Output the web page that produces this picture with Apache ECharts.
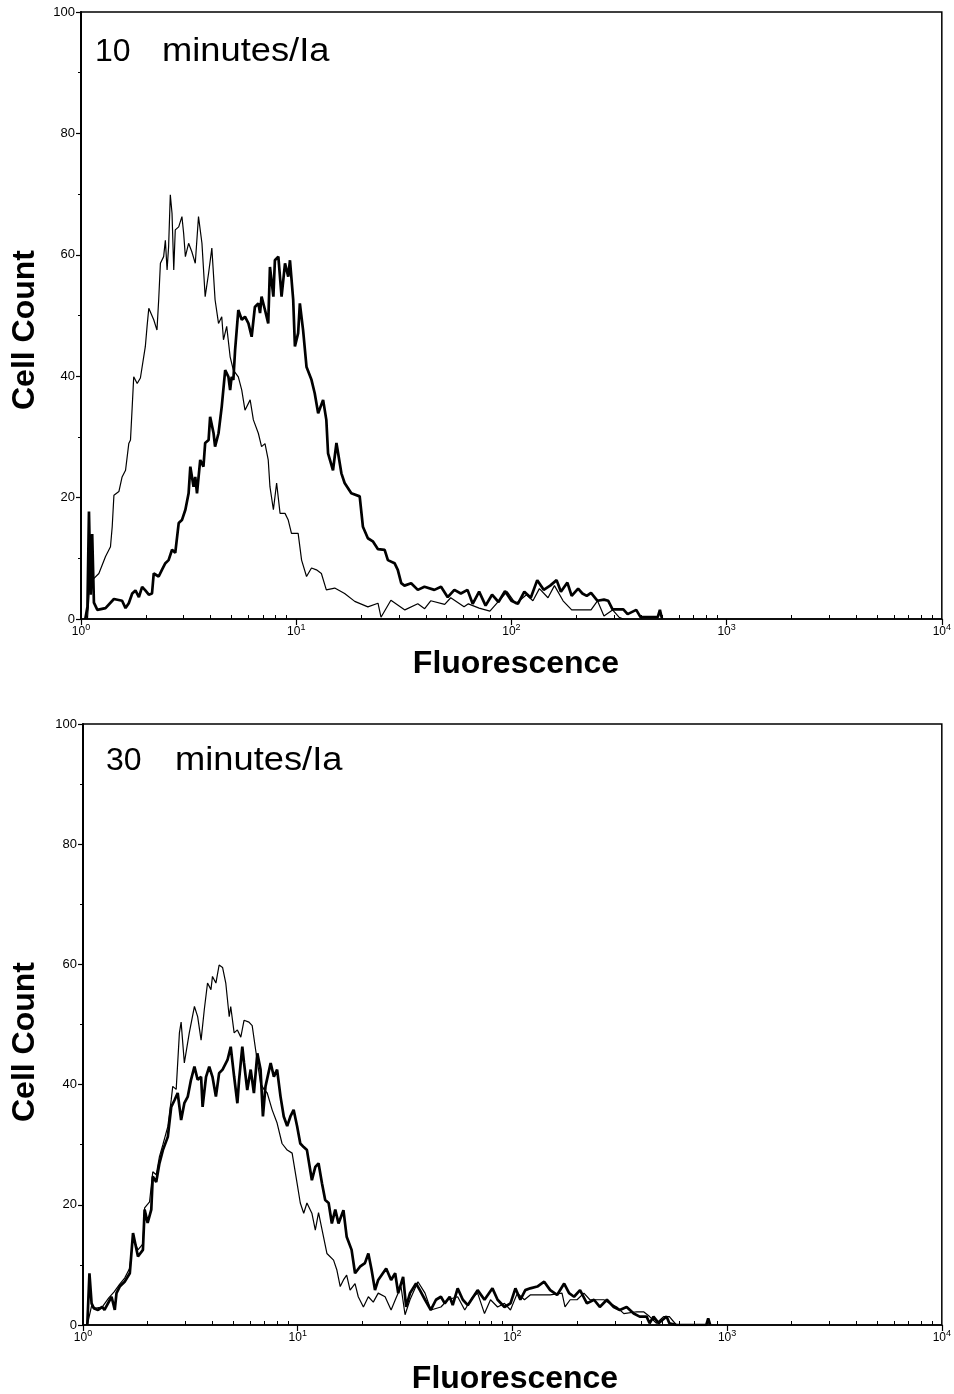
<!DOCTYPE html>
<html>
<head>
<meta charset="utf-8">
<script src="https://cdn.jsdelivr.net/npm/echarts@6/dist/echarts.min.js"></script>
<style>
html,body{margin:0;padding:0;background:#fff;}
#chart{width:954px;height:1394px;}
</style>
</head>
<body>
<div id="chart"></div>
<script>
// x values are log10(fluorescence), y values are cell counts
const xTickValues = [0, 1, 2, 3, 4];
const yTickValues = [0, 20, 40, 60, 80, 100];
const panelLabels = ['10', '30'];
const panelUnit = 'minutes/Ia';
const xTitle = 'Fluorescence';
const yTitle = 'Cell Count';

// Top panel (10 minutes) - thin line
const thin10 = [[0.03,0],[0.045,8],[0.052,6.4],[0.083,7.5],[0.114,10.3],[0.137,11.9],[0.145,15.2],[0.153,20.4],[0.176,21],[0.191,23.4],[0.207,24.5],[0.222,28.9],[0.230,29.5],[0.238,35],[0.245,39.9],[0.261,38.8],[0.276,39.7],[0.299,44.9],[0.307,48.2],[0.315,51.2],[0.338,49.3],[0.353,47.6],[0.361,52.6],[0.369,58.6],[0.384,59.7],[0.392,62.4],[0.400,57.5],[0.407,61.3],[0.415,69.9],[0.423,66.8],[0.431,57.5],[0.438,64.1],[0.454,64.6],[0.469,66.3],[0.477,63.5],[0.485,59.7],[0.500,61.9],[0.515,60.5],[0.531,58.6],[0.546,66.3],[0.562,61.9],[0.577,53.1],[0.593,57],[0.608,61.1],[0.623,52.6],[0.639,48.7],[0.654,49.8],[0.662,46],[0.677,48.2],[0.693,43.2],[0.708,41],[0.731,39.9],[0.747,37.7],[0.762,34.4],[0.786,36.1],[0.801,32.8],[0.824,30.6],[0.839,28.4],[0.855,28.9],[0.870,26.2],[0.878,21.8],[0.894,18],[0.909,22.4],[0.925,17.4],[0.948,17.4],[0.963,16.3],[0.978,14.1],[1.009,14.1],[1.025,9.7],[1.048,7],[1.071,8.4],[1.094,8.1],[1.117,7.5],[1.140,4.8],[1.179,5.1],[1.225,4.2],[1.272,2.9],[1.333,2],[1.380,2.6],[1.394,0.3],[1.44,3.1],[1.505,1.5],[1.565,2.5],[1.597,1.7],[1.625,3],[1.69,2.4],[1.718,3.5],[1.78,2],[1.80,2.5],[1.85,1.8],[1.90,1.3],[1.98,4.5],[2.02,2.5],[2.07,4.0],[2.10,3],[2.13,5],[2.17,3.5],[2.20,5.5],[2.24,3],[2.28,1.5],[2.33,1.5],[2.37,1.5],[2.40,3],[2.43,0.5],[2.47,1.5],[2.50,0.3],[2.52,0]];

// Top panel (10 minutes) - thick line
const thick10 = [[0.02,0],[0.03,2],[0.037,17.7],[0.045,4],[0.052,14],[0.060,2.7],[0.076,1.5],[0.114,1.8],[0.153,3.3],[0.191,3],[0.207,1.8],[0.222,2.6],[0.238,4.2],[0.253,4.7],[0.269,3.6],[0.284,5.3],[0.299,4.7],[0.315,4.0],[0.330,4.2],[0.338,7.5],[0.361,7],[0.376,8.1],[0.392,9.2],[0.407,9.7],[0.423,11.4],[0.438,10.9],[0.454,15.8],[0.469,16.3],[0.485,18],[0.500,20.7],[0.508,25.1],[0.523,21.8],[0.531,23.4],[0.539,20.7],[0.554,26.2],[0.569,25.1],[0.577,29],[0.593,29.5],[0.600,33.3],[0.616,30.6],[0.623,28.4],[0.639,30.6],[0.654,35],[0.670,41],[0.685,39.9],[0.693,37.7],[0.700,39.9],[0.708,39.4],[0.716,44.3],[0.731,50.9],[0.747,49.3],[0.762,49.8],[0.778,48.7],[0.793,46.5],[0.808,51.4],[0.824,52],[0.832,50.4],[0.839,53.1],[0.855,50.9],[0.870,48.7],[0.878,58],[0.894,53.1],[0.901,59.1],[0.917,59.7],[0.932,53.1],[0.948,58.6],[0.963,56.4],[0.971,59.1],[0.986,52.6],[0.994,44.9],[1.009,47.1],[1.017,52],[1.032,47.6],[1.048,41.5],[1.071,39.4],[1.086,37.2],[1.102,33.9],[1.125,36.1],[1.140,32.8],[1.148,27.3],[1.171,24.5],[1.187,29],[1.210,24],[1.225,22.4],[1.256,20.7],[1.295,20.2],[1.310,15.2],[1.333,13.3],[1.356,12.8],[1.380,11.5],[1.411,11.4],[1.426,9.7],[1.457,9.2],[1.472,8.1],[1.488,5.9],[1.503,5.5],[1.534,5.9],[1.565,4.8],[1.596,5.3],[1.642,4.8],[1.673,5.3],[1.704,3.6],[1.735,4.8],[1.765,4.2],[1.796,4.8],[1.82,2.5],[1.85,4.5],[1.88,2.2],[1.91,4],[1.94,2.8],[1.97,4.6],[2.00,3],[2.03,2.5],[2.06,4.5],[2.09,3.5],[2.12,6.4],[2.15,4.8],[2.18,5.5],[2.21,6.4],[2.23,4.5],[2.26,6],[2.28,3.8],[2.31,5],[2.33,4.2],[2.35,3.8],[2.37,4.3],[2.40,3],[2.43,3.2],[2.45,3],[2.47,1.6],[2.52,1.6],[2.54,0.8],[2.58,1.5],[2.60,0.3],[2.68,0.3],[2.69,1.5],[2.70,0]];

// Bottom panel (30 minutes) - thin line
const thin30 = [[0.02,0],[0.04,3.2],[0.06,2.8],[0.09,3.0],[0.12,4.5],[0.145,5.5],[0.171,6.8],[0.194,7.8],[0.218,9.5],[0.233,14.5],[0.256,12.5],[0.279,13.5],[0.287,19.5],[0.310,20.5],[0.325,25.5],[0.341,25],[0.356,28],[0.372,30],[0.395,33],[0.411,37.5],[0.418,39.7],[0.434,39.2],[0.449,48.6],[0.457,50.4],[0.472,43.6],[0.495,48.6],[0.519,53],[0.534,51.3],[0.550,47.4],[0.565,52.5],[0.580,56.9],[0.596,55.8],[0.603,58],[0.619,56.9],[0.634,59.9],[0.650,59.5],[0.665,56.9],[0.681,51.3],[0.688,53],[0.704,48.6],[0.719,49.1],[0.735,47.9],[0.750,50.7],[0.773,50.4],[0.788,49.8],[0.804,45.8],[0.827,40.2],[0.843,39.2],[0.858,38.6],[0.881,35.8],[0.904,33.6],[0.927,30.2],[0.951,29.1],[0.974,28.6],[0.997,23.6],[1.012,20.3],[1.028,18.6],[1.043,20.3],[1.066,18.6],[1.082,15.8],[1.097,18.7],[1.120,14.7],[1.136,11.9],[1.167,10.8],[1.182,9.2],[1.198,6.4],[1.213,7.5],[1.228,8.3],[1.244,5.8],[1.267,6.9],[1.282,4.7],[1.306,3],[1.329,4.7],[1.352,3.8],[1.375,5.3],[1.407,4.7],[1.435,2.5],[1.458,4.5],[1.481,6.4],[1.500,1.7],[1.523,4.2],[1.560,7.2],[1.593,5.3],[1.620,2.5],[1.667,3],[1.699,4.2],[1.745,4.7],[1.778,2.5],[1.815,4.7],[1.838,5.3],[1.870,1.9],[1.898,4.2],[1.931,3],[1.963,3.6],[1.991,2.5],[2.023,5.3],[2.056,4.2],[2.083,5],[2.176,5],[2.231,5.3],[2.245,3],[2.269,4.2],[2.301,4.2],[2.333,5.3],[2.361,4.2],[2.426,4.2],[2.454,3.6],[2.486,3],[2.519,1.9],[2.579,2.2],[2.611,2.2],[2.639,1.4],[2.671,0.3],[2.704,1.4],[2.731,1.4],[2.764,0]];

// Bottom panel (30 minutes) - thick line
const thick30 = [[0.02,0],[0.03,8.6],[0.04,3.6],[0.05,2.8],[0.07,2.5],[0.09,3],[0.10,2.5],[0.133,4.7],[0.148,2.5],[0.156,5.3],[0.171,6.4],[0.194,7.2],[0.218,8.6],[0.233,15.3],[0.256,11.4],[0.279,12.5],[0.287,19.2],[0.301,17],[0.318,19.2],[0.325,24.7],[0.341,23.8],[0.356,26.9],[0.372,29.1],[0.395,31.3],[0.411,36.3],[0.426,37.4],[0.441,38.6],[0.457,34.1],[0.472,36.9],[0.488,38],[0.503,40.8],[0.519,43],[0.534,40.8],[0.550,41.3],[0.557,36.3],[0.573,41.3],[0.588,43],[0.603,41.3],[0.619,38],[0.634,41.9],[0.650,42.5],[0.673,44.1],[0.688,46.3],[0.704,41.3],[0.719,36.9],[0.727,40.8],[0.742,46.3],[0.750,43.6],[0.765,39.1],[0.781,42.5],[0.796,38.6],[0.812,45.2],[0.827,42.5],[0.838,34.7],[0.850,39.7],[0.874,43.6],[0.889,41.3],[0.904,42.5],[0.920,38],[0.935,34.7],[0.951,33.1],[0.966,34.7],[0.981,35.8],[0.997,33.1],[1.012,30.2],[1.028,29.6],[1.043,29.1],[1.066,24.1],[1.082,26.3],[1.097,26.9],[1.113,23.6],[1.128,20.8],[1.144,20.3],[1.159,16.9],[1.175,19.2],[1.190,16.9],[1.213,19.1],[1.228,14.7],[1.251,12.5],[1.267,8.6],[1.290,9.7],[1.313,10.3],[1.329,11.9],[1.344,9.2],[1.360,5.8],[1.375,7.5],[1.412,9.4],[1.435,7.5],[1.454,8.6],[1.468,5.3],[1.491,8],[1.505,3],[1.523,5.3],[1.551,6.9],[1.569,5.8],[1.593,4.2],[1.620,2.5],[1.644,4.2],[1.667,4.7],[1.685,3.6],[1.708,4.7],[1.722,3.3],[1.745,6.1],[1.769,4.2],[1.792,3.3],[1.838,5.8],[1.870,4.2],[1.907,6.1],[1.931,4.2],[1.963,3],[1.991,3.6],[2.014,6.1],[2.037,4.2],[2.060,5.8],[2.083,6.1],[2.116,6.4],[2.148,7.2],[2.176,5.8],[2.208,5],[2.241,6.9],[2.264,5.3],[2.287,4.7],[2.315,5.8],[2.347,3.6],[2.380,4.2],[2.407,3],[2.440,4.2],[2.472,3],[2.500,2.5],[2.532,3],[2.565,1.9],[2.593,1.4],[2.625,1.4],[2.639,0.3],[2.657,1.4],[2.681,0.3],[2.718,1.4],[2.731,0.3],[2.764,0],[2.903,0],[2.912,1.1],[2.921,0]];

const panelSeries = [[thin10, thick10], [thin30, thick30]];

// minor log tick positions (2..9 within each decade)
const minorTicks = [];
for (let n = 0; n < 4; n++) {
  for (let k = 2; k <= 9; k++) minorTicks.push(+(n + Math.log10(k)).toFixed(4));
}

const grids = [
  { left: 81, right: 6, top: 12, bottom: 775 },
  { left: 83, right: 7, top: 724, bottom: 69 }
];

const FONT = '"Liberation Sans", Arial, Helvetica, sans-serif';

const xAxes = [];
const yAxes = [];
grids.forEach((g, gi) => {
  xAxes.push({
    type: 'value', gridIndex: gi, min: 0, max: 4, interval: 1,
    axisLine: { show: true, onZero: false, lineStyle: { color: '#000', width: 1.5 } },
    axisTick: { show: true, length: 6, lineStyle: { color: '#000', width: 1.2 } },
    splitLine: { show: false },
    axisLabel: {
      show: true, margin: 4, color: '#000', fontFamily: FONT, fontSize: 12,
      formatter: v => '{base|10}{sup|' + v + '}',
      rich: {
        base: { fontSize: 12, fontFamily: FONT, color: '#000' },
        sup: { fontSize: 9, fontFamily: FONT, color: '#000', padding: [0, 0, 8, 0], verticalAlign: 'bottom' }
      }
    }
  });
  xAxes.push({
    type: 'value', gridIndex: gi, min: 0, max: 4,
    axisLine: { show: false },
    axisLabel: { show: false },
    splitLine: { show: false },
    axisTick: { show: true, length: 4, customValues: minorTicks, lineStyle: { color: '#000', width: 1 } }
  });
  yAxes.push({
    type: 'value', gridIndex: gi, min: 0, max: 100, interval: 20,
    axisLine: { show: true, onZero: false, lineStyle: { color: '#000', width: 2 } },
    axisTick: { show: true, length: 5, lineStyle: { color: '#000', width: 1.2 } },
    minorTick: { show: true, splitNumber: 2, length: 3, lineStyle: { color: '#000', width: 1 } },
    splitLine: { show: false },
    axisLabel: { show: true, margin: 6, color: '#000', fontFamily: FONT, fontSize: 13 }
  });
});

const series = [];
panelSeries.forEach((pair, gi) => {
  series.push({
    type: 'line', xAxisIndex: gi * 2, yAxisIndex: gi, data: pair[0],
    showSymbol: false, symbol: 'none', clip: true,
    lineStyle: { color: '#000', width: 1.2 }
  });
  series.push({
    type: 'line', xAxisIndex: gi * 2, yAxisIndex: gi, data: pair[1],
    showSymbol: false, symbol: 'none', clip: true,
    lineStyle: { color: '#000', width: 2.7 }
  });
});

const textPos = [
  { num: [95, 52], unit: [162, 52], xt: [516, 664], yt: [25, 330] },
  { num: [106, 761], unit: [175, 761], xt: [515, 1379], yt: [25, 1042] }
];
const graphics = [];
textPos.forEach((p, gi) => {
  graphics.push({ type: 'text', x: p.num[0], y: p.num[1], style: { text: panelLabels[gi], font: '32px ' + FONT, fill: '#000', textAlign: 'left', textVerticalAlign: 'middle' } });
  graphics.push({ type: 'text', x: p.unit[0], y: p.unit[1], scaleX: 1.1, style: { text: panelUnit, font: '33px ' + FONT, fill: '#000', textAlign: 'left', textVerticalAlign: 'middle' } });
  graphics.push({ type: 'text', x: p.xt[0], y: p.xt[1], style: { text: xTitle, font: 'bold 32px ' + FONT, fill: '#000', textAlign: 'center', textVerticalAlign: 'middle' } });
  graphics.push({ type: 'text', x: p.yt[0], y: p.yt[1], rotation: Math.PI / 2, style: { text: yTitle, font: 'bold 32px ' + FONT, fill: '#000', textAlign: 'center', textVerticalAlign: 'middle' } });
});

const chart = echarts.init(document.getElementById('chart'), null, { renderer: 'canvas', width: 954, height: 1394 });
chart.setOption({
  animation: false,
  backgroundColor: '#fff',
  grid: grids.map(g => Object.assign({ show: true, borderColor: '#000', borderWidth: 1.5, backgroundColor: 'transparent' }, g)),
  xAxis: xAxes,
  yAxis: yAxes,
  series: series,
  graphic: graphics
});
</script>
</body>
</html>
